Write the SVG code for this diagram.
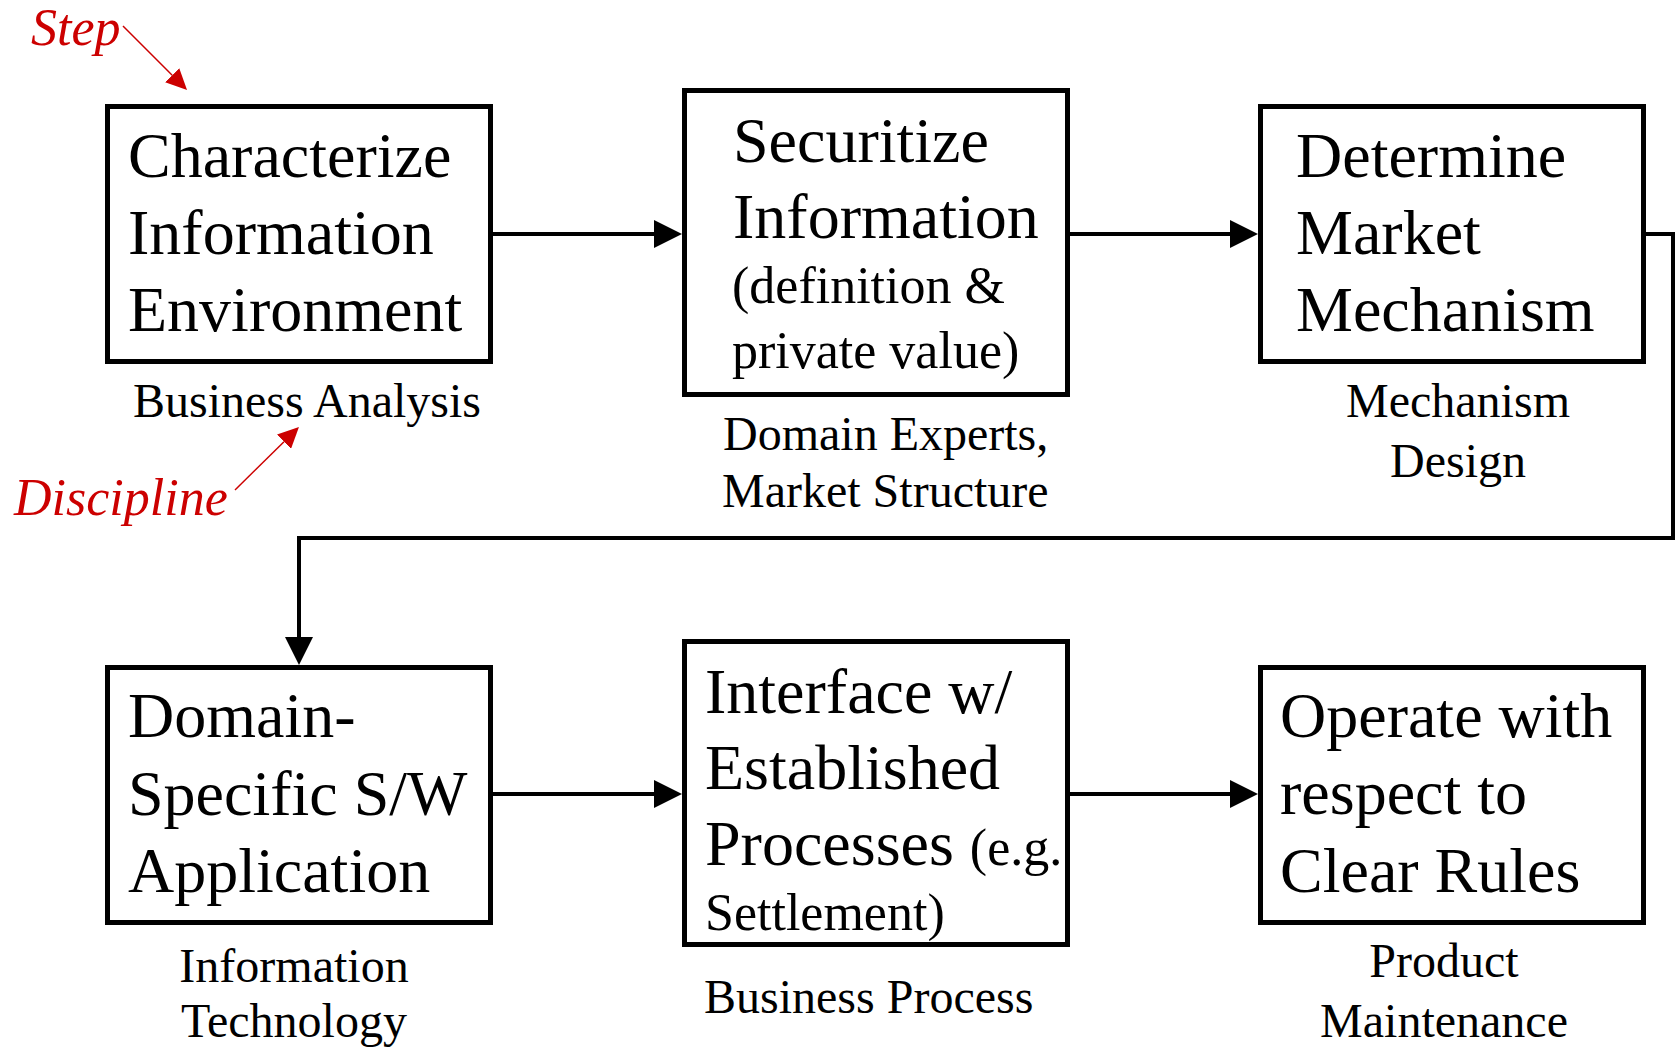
<svg xmlns="http://www.w3.org/2000/svg" width="1677" height="1049" viewBox="0 0 1677 1049">
<style>
.box{fill:#fff;stroke:#000;stroke-width:5}
.t{font-family:"Liberation Serif","Times New Roman",serif;fill:#000}
.big{font-size:64px}
.mid{font-size:52px}
.lab{font-size:48px}
.red{font-family:"Liberation Serif","Times New Roman",serif;font-style:italic;font-size:52px;fill:#CC0000}
.conn{fill:none;stroke:#000;stroke-width:4;stroke-linejoin:miter}
.rline{fill:none;stroke:#CC0000;stroke-width:1.5}
</style>
<defs>
<marker id="ah" markerUnits="userSpaceOnUse" markerWidth="28" markerHeight="28" refX="0" refY="14" orient="auto">
<path d="M0,0 L28,14 L0,28 z" fill="#000"/>
</marker>
<marker id="rah" markerUnits="userSpaceOnUse" markerWidth="21" markerHeight="20" refX="0" refY="10" orient="auto">
<path d="M0,0 L21,10 L0,20 z" fill="#CC0000"/>
</marker>
</defs>
<rect width="1677" height="1049" fill="#fff"/>
<g id="connectors">
<line class="conn" x1="493" y1="234" x2="654" y2="234" marker-end="url(#ah)"/>
<line class="conn" x1="1070" y1="234" x2="1230" y2="234" marker-end="url(#ah)"/>
<path class="conn" d="M1646,234 H1673 V538 H299 V637" marker-end="url(#ah)"/>
<line class="conn" x1="493" y1="794" x2="654" y2="794" marker-end="url(#ah)"/>
<line class="conn" x1="1070" y1="794" x2="1230" y2="794" marker-end="url(#ah)"/>
</g>
<g id="annotations">
<text class="red" x="31" y="45">Step</text>
<line class="rline" x1="123" y1="26" x2="172.2" y2="75.2" marker-end="url(#rah)"/>
<text class="red" x="14" y="515">Discipline</text>
<line class="rline" x1="235" y1="490" x2="284" y2="441.7" marker-end="url(#rah)"/>
</g>
<g id="node1">
<rect class="box" x="107.5" y="106.5" width="383" height="255"/>
<text class="t big" x="128" y="177">Characterize</text>
<text class="t big" x="128" y="254">Information</text>
<text class="t big" x="128" y="331">Environment</text>
<text class="t lab" x="133" y="417">Business Analysis</text>
</g>
<g id="node2">
<rect class="box" x="684.5" y="90.5" width="383" height="304"/>
<text class="t big" x="733" y="162">Securitize</text>
<text class="t big" x="733" y="238">Information</text>
<text class="t mid" x="732" y="303">(definition &amp;</text>
<text class="t mid" x="732" y="368">private value)</text>
<text class="t lab" x="723" y="450">Domain Experts,</text>
<text class="t lab" x="722" y="507">Market Structure</text>
</g>
<g id="node3">
<rect class="box" x="1260.5" y="106.5" width="383" height="255"/>
<text class="t big" x="1296" y="177">Determine</text>
<text class="t big" x="1296" y="254">Market</text>
<text class="t big" x="1296" y="331">Mechanism</text>
<text class="t lab" x="1458" y="417" text-anchor="middle">Mechanism</text>
<text class="t lab" x="1458" y="477" text-anchor="middle">Design</text>
</g>
<g id="node4">
<rect class="box" x="107.5" y="667.5" width="383" height="255"/>
<text class="t big" x="128" y="737">Domain-</text>
<text class="t big" x="128" y="815">Specific S/W</text>
<text class="t big" x="128" y="892">Application</text>
<text class="t lab" x="294" y="982" text-anchor="middle">Information</text>
<text class="t lab" x="294" y="1037" text-anchor="middle">Technology</text>
</g>
<g id="node5">
<rect class="box" x="684.5" y="641.5" width="383" height="303"/>
<text class="t big" x="705" y="713">Interface w/</text>
<text class="t big" x="705" y="789">Established</text>
<text class="t big" x="705" y="865">Processes <tspan class="mid">(e.g.</tspan></text>
<text class="t mid" x="705" y="930">Settlement)</text>
<text class="t lab" x="704" y="1013">Business Process</text>
</g>
<g id="node6">
<rect class="box" x="1260.5" y="667.5" width="383" height="255"/>
<text class="t big" x="1280" y="737">Operate with</text>
<text class="t big" x="1280" y="814">respect to</text>
<text class="t big" x="1280" y="892">Clear Rules</text>
<text class="t lab" x="1444" y="977" text-anchor="middle">Product</text>
<text class="t lab" x="1444" y="1037" text-anchor="middle">Maintenance</text>
</g>
</svg>
